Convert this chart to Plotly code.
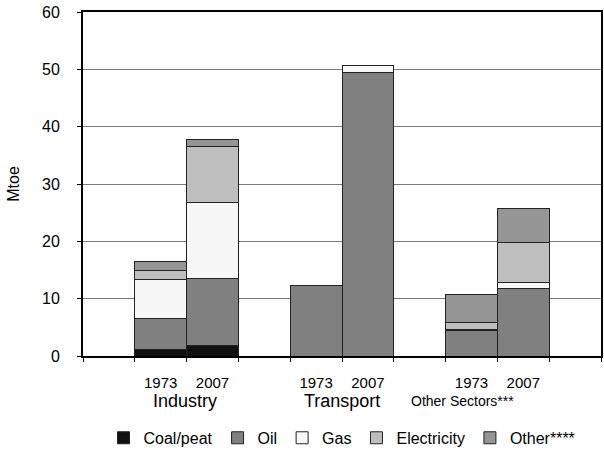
import plotly.graph_objects as go

# Final energy consumption by sector (Mtoe), 1973 vs 2007
sectors = ["Industry", "Transport", "Other Sectors***"]
years = ["1973", "2007"]

# Values ordered: Industry 1973, Industry 2007, Transport 1973, Transport 2007,
# Other Sectors 1973, Other Sectors 2007
coal_peat = [1.2, 1.8, 0.0, 0.0, 0.0, 0.0]
oil = [5.4, 11.8, 12.3, 49.5, 4.4, 11.8]
gas = [6.8, 13.2, 0.0, 1.2, 0.3, 1.1]
electricity = [1.5, 9.8, 0.0, 0.0, 1.2, 6.9]
other = [1.5, 1.2, 0.0, 0.0, 4.9, 6.0]

fuel_names = ["Coal/peat", "Oil", "Gas", "Electricity", "Other****"]
fuel_values = [coal_peat, oil, gas, electricity, other]
fuel_colors = ["#111111", "#808080", "#f7f7f7", "#bebebe", "#959595"]

# Each sector takes two adjacent slots, separated by an empty slot
x_pos = [3 * g + j + 1 for g in range(len(sectors)) for j in range(len(years))]
year_labels = [y for _ in sectors for y in years]

fig = go.Figure()
for name, vals, col in zip(fuel_names, fuel_values, fuel_colors):
    fig.add_trace(go.Bar(
        x=x_pos, y=vals, name=name, width=1,
        marker=dict(color=col, line=dict(color="#222222", width=1)),
    ))

font_family = "Liberation Sans, Arial, sans-serif"

fig.update_layout(
    barmode="stack",
    width=604, height=456,
    margin=dict(l=83, r=1, t=12, b=100),
    paper_bgcolor="white", plot_bgcolor="white",
    font=dict(family=font_family, color="black", size=16),
    showlegend=True,
    legend=dict(orientation="h", x=0.5, xanchor="center", y=-0.238,
                yanchor="middle", font=dict(size=16), traceorder="normal"),
    xaxis=dict(
        range=[-0.5, 9.5],
        tickmode="array", tickvals=x_pos, ticktext=year_labels,
        ticks="", tickfont=dict(size=15), ticklabelstandoff=12,
        minor=dict(tickmode="linear", tick0=-0.5, dtick=1, ticks="outside",
                   ticklen=4, tickcolor="black", showgrid=False),
        showline=True, linecolor="black", linewidth=2, mirror=True,
        showgrid=False, zeroline=False, fixedrange=True,
    ),
    yaxis=dict(
        range=[0, 60], dtick=10, tick0=0,
        ticks="outside", ticklen=4, tickcolor="black",
        tickfont=dict(size=16), ticklabelstandoff=14,
        showline=True, linecolor="black", linewidth=2, mirror=True,
        showgrid=True, gridcolor="#7a7a7a", gridwidth=1,
        zeroline=False,
        title=dict(text="Mtoe", font=dict(size=16), standoff=18),
    ),
)

# Sector names under each pair of bars
sector_sizes = [18, 18, 14]
sector_shift = [-2, 0, -35]
for g, (name, sz, dx) in enumerate(zip(sectors, sector_sizes, sector_shift)):
    fig.add_annotation(
        x=3 * g + 1.5, xref="x", y=-0.131, yref="paper", xshift=dx,
        text=name, showarrow=False, xanchor="center", yanchor="middle",
        font=dict(size=sz, family=font_family, color="black"),
    )

fig.write_html("out.html")
